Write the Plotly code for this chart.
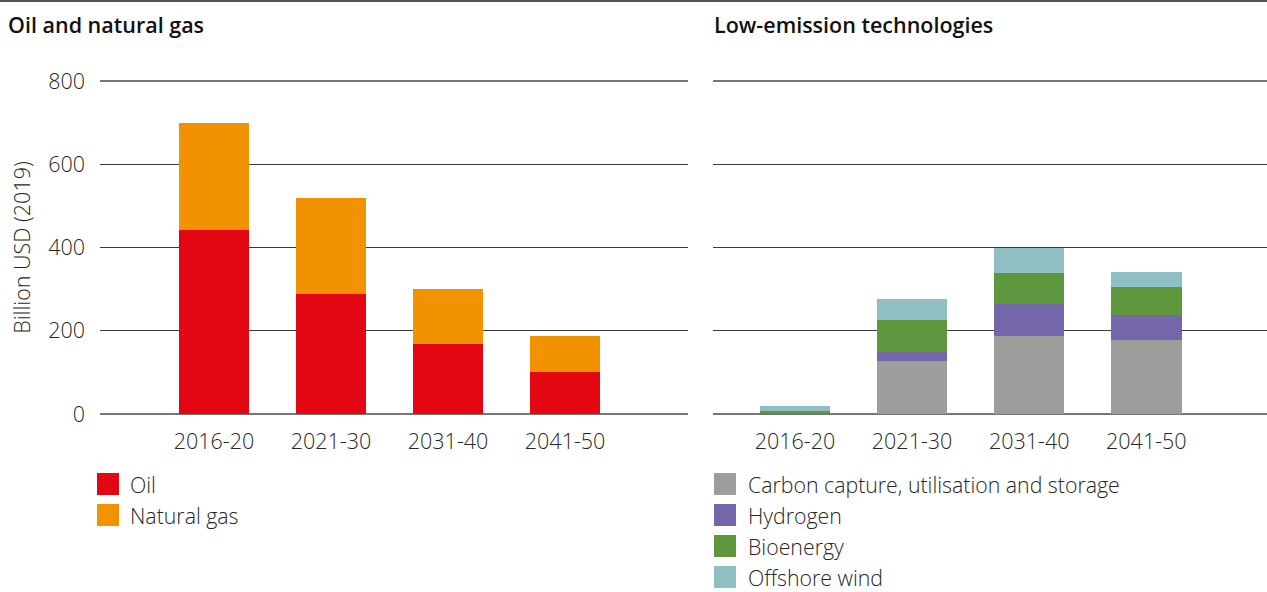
import plotly.graph_objects as go

W, H = 1267, 592

periods = ["2016-20", "2021-30", "2031-40", "2041-50"]

oil = [442, 288, 168, 101]
natural_gas = [258, 232, 132, 86]

ccus = [1, 127, 187, 178]
hydrogen = [0.5, 23, 78, 60]
bioenergy = [6, 76, 74, 67]
offshore_wind = [12, 50, 59, 36]

left_names = ["Oil", "Natural gas"]
right_names = ["Carbon capture, utilisation and storage", "Hydrogen", "Bioenergy", "Offshore wind"]

left_colors = ["#E30613", "#F39200"]
right_colors = ["#9D9D9C", "#7566A9", "#5F973E", "#8FBFC3"]

y_ticks = [0, 200, 400, 600, 800]

FONT = "Open Sans"
TXT = "#262626"
TICKFONT = dict(family=FONT, size=21.5, color=TXT, weight=300)

fig = go.Figure()
for vals, name, col in zip([oil, natural_gas], left_names, left_colors):
    fig.add_trace(go.Bar(x=periods, y=vals, name=name, marker_color=col,
                         marker_line_width=0, xaxis="x", yaxis="y", width=0.6,
                         showlegend=False))
for vals, name, col in zip([ccus, hydrogen, bioenergy, offshore_wind], right_names, right_colors):
    fig.add_trace(go.Bar(x=periods, y=vals, name=name, marker_color=col,
                         marker_line_width=0, xaxis="x2", yaxis="y2", width=0.6,
                         showlegend=False))

def px(x):
    return x / W

def py(y):
    return 1 - y / H

ydom = [py(414), py(81)]

axis_common = dict(showline=False, ticks="", tickfont=TICKFONT,
                   fixedrange=True, automargin=False)

fig.update_layout(
    width=W, height=H, autosize=False, barmode="stack", bargap=0.4, showlegend=False,
    margin=dict(l=0, r=0, t=0, b=0, pad=0),
    paper_bgcolor="white", plot_bgcolor="white",
    font=dict(family=FONT, color=TXT),
    xaxis=dict(domain=[px(100), px(688)], type="category", range=[-0.974, 4.05],
               showgrid=False, zeroline=False, anchor="y", ticklabelstandoff=12, **axis_common),
    yaxis=dict(domain=ydom, range=[0, 800], tickvals=y_ticks, showgrid=True,
               gridcolor="#3a3a3a", gridwidth=1, zeroline=True, zerolinecolor="#777777",
               zerolinewidth=2, anchor="x", ticklabelstandoff=14,
               title=dict(text="Billion USD (2019)",
                          font=dict(family=FONT, size=21.5, color=TXT, weight=300),
                          standoff=11),
               **axis_common),
    xaxis2=dict(domain=[px(713), px(1267)], type="category", range=[-0.70, 4.03],
                showgrid=False, zeroline=False, anchor="y2", ticklabelstandoff=12, **axis_common),
    yaxis2=dict(domain=ydom, range=[0, 800], tickvals=y_ticks, showgrid=True,
                gridcolor="#3a3a3a", gridwidth=1, zeroline=True, zerolinecolor="#777777",
                zerolinewidth=2, anchor="x2", showticklabels=False, **axis_common),
)

shapes = []
annotations = []
# top rule
shapes.append(dict(type="line", xref="paper", yref="paper", x0=0, x1=1, y0=py(1), y1=py(1),
                   line=dict(color="#555555", width=2)))
# 800 gridline gray overlay
for x0, x1 in [(100, 688), (713, 1267)]:
    shapes.append(dict(type="line", xref="paper", yref="paper", x0=px(x0), x1=px(x1),
                       y0=py(81), y1=py(81), line=dict(color="#777777", width=2)))

# panel titles
for text, x in [("Oil and natural gas", 6), ("Low-emission technologies", 712)]:
    annotations.append(dict(text=text, xref="paper", yref="paper",
                            x=px(x), y=py(24), xanchor="left", yanchor="middle",
                            showarrow=False,
                            font=dict(family=FONT, size=21.5, color="#111111", weight=600)))

# manual legends
def legend(names, colors, sx, tx, y0):
    for i, (n, c) in enumerate(zip(names, colors)):
        cy = y0 + i * 31
        shapes.append(dict(type="rect", xref="paper", yref="paper",
                           x0=px(sx), x1=px(sx + 22), y0=py(cy - 11), y1=py(cy + 11),
                           fillcolor=c, line=dict(width=0)))
        annotations.append(dict(text=n, xref="paper", yref="paper", x=px(tx), y=py(cy),
                                xanchor="left", yanchor="middle", showarrow=False,
                                font=dict(family=FONT, size=21.3, color=TXT, weight=300)))

legend(left_names, left_colors, 97, 128, 484)
legend(right_names, right_colors, 714, 746, 484)

fig.update_layout(shapes=shapes, annotations=annotations)

fig.write_html("out.html", config={"responsive": False, "displayModeBar": False},
               post_script="document.body.style.margin='0';document.body.style.overflow='hidden';")
